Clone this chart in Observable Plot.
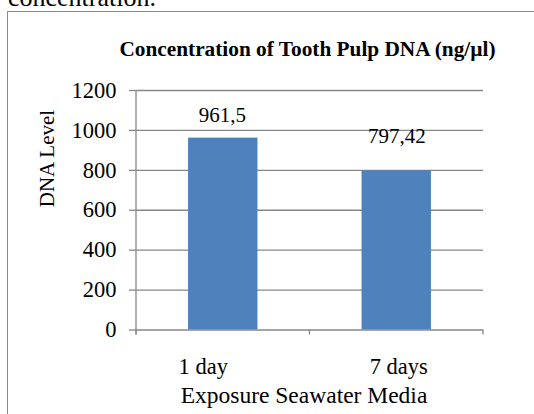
<!DOCTYPE html>
<html>
<head>
<meta charset="utf-8">
<script src="https://cdn.jsdelivr.net/npm/d3@7"></script>
<script src="https://cdn.jsdelivr.net/npm/@observablehq/plot@0.6"></script>
<style>
  html, body { margin: 0; padding: 0; background: #fff; }
  body { width: 534px; height: 414px; overflow: hidden; position: relative;
         font-family: "Liberation Serif", "Times New Roman", serif; color: #000; }
  #para { position: absolute; left: 8px; top: -15px; font-size: 26px; line-height: 1; white-space: nowrap; }
  #frame { position: absolute; left: 7px; top: 11px; width: 560px; height: 440px;
           border: 1.5px solid #8a8a8a; box-sizing: border-box; }
  #title { position: absolute; left: 0; width: 615px; top: 39px; text-align: center;
           font-weight: bold; font-size: 21.3px; line-height: 1; white-space: nowrap; }
  #chart { position: absolute; left: 0; top: 0; }
  #chart svg, #chart svg text { font-family: "Liberation Serif", "Times New Roman", serif !important; }
</style>
</head>
<body>
<div id="para">concentration.</div>
<div id="frame"></div>
<div id="title">Concentration of Tooth Pulp DNA (ng/µl)</div>
<div id="chart"></div>
<script>
// ---- data ----
const categories = ["1 day", "7 days"];
const values = [961.5, 797.42];
const valueLabels = ["961,5", "797,42"];
const yTicks = [0, 200, 400, 600, 800, 1000, 1200];
const xTitle = "Exposure Seawater Media";
const yTitle = "DNA Level";

const data = categories.map((c, i) => ({category: c, value: values[i], label: valueLabels[i]}));

const axisColor = "#878787";
const barColor = "#4f81bd";
const serif = "Liberation Serif";

// boundary ticks on the x axis + vertical axis line, computed from the scales
function axisLines(index, scales, values, dims) {
  const x = scales.x, y = scales.y;
  const bw = x.bandwidth(), st = x.step();
  const dom = x.domain();
  const edges = dom.map(c => x(c) - (st - bw) / 2);
  edges.push(x(dom[dom.length - 1]) + bw + (st - bw) / 2);
  const y0 = y(0);
  const g = d3.create("svg:g").attr("stroke", axisColor).attr("stroke-width", 1.3);
  g.selectAll("line.t").data(edges).join("line").attr("class", "t")
    .attr("x1", d => d).attr("x2", d => d).attr("y1", y0).attr("y2", y0 + 5);
  g.append("line").attr("x1", dims.marginLeft).attr("x2", dims.marginLeft)
    .attr("y1", y(yTicks[yTicks.length - 1])).attr("y2", y0 + 5);
  return g.node();
}

const txt = {fontSize: 21, fontFamily: serif, fill: "#000"};
const txtL = {fontSize: 22.5, fontFamily: serif, fill: "#000"};

const chart = Plot.plot({
  width: 534,
  height: 414,
  marginLeft: 136,
  marginRight: 51,
  marginTop: 90,
  marginBottom: 84.5,
  style: {fontFamily: serif, fontSize: "21px", color: "#000", background: "transparent"},
  x: {domain: categories, paddingInner: 0.6, paddingOuter: 0.3, round: false, axis: null},
  y: {domain: [0, 1200], axis: null},
  marks: [
    Plot.ruleY(yTicks.filter(d => d > 0), {stroke: axisColor, strokeWidth: 1.3}),
    Plot.barY(data, {x: "category", y: "value", fill: barColor}),
    Plot.ruleY([0], {stroke: axisColor, strokeWidth: 1.3}),
    axisLines,
    Plot.axisY({ticks: yTicks, tickSize: 7, tickPadding: 13, stroke: axisColor, strokeWidth: 1.3,
                label: null, tickFormat: d => String(d), fontSize: 22.5, fontFamily: serif, fill: "#000"}),
    // value labels
    Plot.text(data.slice(0, 1), {x: "category", y: "value", text: "label", lineAnchor: "bottom", dy: -16, dx: -1, ...txt}),
    Plot.text(data.slice(1, 2), {x: "category", y: "value", text: "label", lineAnchor: "bottom", dy: -28, ...txt}),
    // category labels
    Plot.text(data.slice(0, 1), {x: "category", frameAnchor: "bottom", text: "category", lineAnchor: "bottom", dy: 43.5, dx: -20, ...txtL}),
    Plot.text(data.slice(1, 2), {x: "category", frameAnchor: "bottom", text: "category", lineAnchor: "bottom", dy: 43.5, dx: 2, ...txtL}),
    // axis titles
    Plot.text([xTitle], {frameAnchor: "bottom", text: d => d, lineAnchor: "bottom", dy: 72.5, dx: -6, fontSize: 23.5, fontFamily: serif, fill: "#000"}),
    Plot.text([yTitle], {frameAnchor: "left", text: d => d, rotate: -90, lineAnchor: "bottom", dx: -83, dy: -3, ...txt})
  ]
});
document.getElementById("chart").appendChild(chart);
</script>
</body>
</html>
